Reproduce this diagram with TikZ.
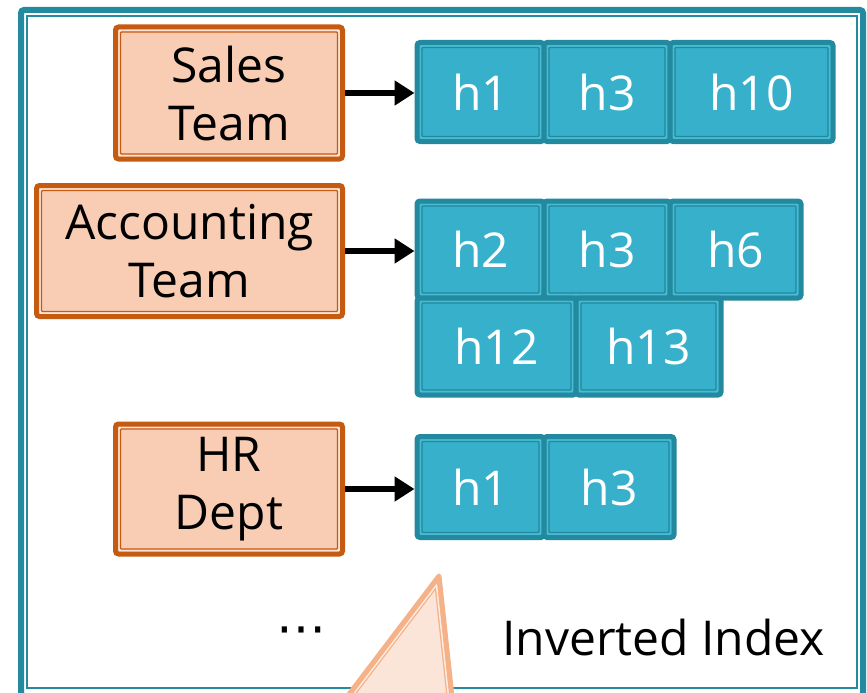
\documentclass[tikz,border=0pt]{standalone}
\usepackage{fontspec}
\setmainfont{Open Sans}
\newfontfamily\symfont{DejaVu Sans}
\usetikzlibrary{arrows.meta}

\definecolor{frameteal}{RGB}{35,138,159}
\definecolor{cellline}{RGB}{35,137,158}
\definecolor{cellgap}{RGB}{72,188,212}
\definecolor{cellfill}{RGB}{54,176,203}
\definecolor{teamline}{RGB}{197,90,17}
\definecolor{teamgap}{RGB}{252,228,214}
\definecolor{teamfill}{RGB}{248,205,180}
\definecolor{triline}{RGB}{245,177,135}
\definecolor{trigap}{RGB}{253,236,226}
\definecolor{trifill}{RGB}{251,229,216}

\tikzset{
  % thick-thin compound border: thick outer stroke, light gap, thin inner line
  compound/.style n args={3}{
    draw=#1, fill=#3, line width=5pt, rounded corners=3pt,
    path picture={
      \draw[#2, line width=1.8pt, rounded corners=1pt]
        ([shift={(3.4pt,-3.4pt)}]path picture bounding box.north west) rectangle
        ([shift={(-3.4pt,3.4pt)}]path picture bounding box.south east);
      \draw[#1, line width=1.3pt, rounded corners=1pt]
        ([shift={(5pt,-5pt)}]path picture bounding box.north west) rectangle
        ([shift={(-5pt,5pt)}]path picture bounding box.south east);
    }},
  bigtext/.style={font=\fontsize{48}{58}\selectfont},
  team/.style={compound={teamline}{teamgap}{teamfill}, inner sep=0pt,
    align=center, bigtext},
  cell/.style={compound={cellline}{cellgap}{cellfill}, inner sep=0pt,
    text=white, bigtext},
  link/.style={line width=6pt, -{Triangle[length=20pt,width=24pt]}},
}

\begin{document}
\begin{tikzpicture}[x=1pt,y=-1pt]
\useasboundingbox (0,0) rectangle (867,693);

\begin{scope}
\clip (0,0) rectangle (867,693);

% outer frame (thick line with thin inner line)
\draw[frameteal, line width=6pt, rounded corners=3pt] (21,10) rectangle (863,696);
\draw[frameteal, line width=1.5pt] (27,16) rectangle (857,688);

% group names
\node[team, minimum width=227pt, minimum height=132pt] (sales) at (229,93) {Sales\\Team};
\node[team, minimum width=306pt, minimum height=131pt] (acct) at (189.5,251) {Accounting\\Team};
\node[team, minimum width=227pt, minimum height=130pt] (hr) at (229,489) {HR\\Dept};

% posting list of Sales Team
\node[cell, minimum width=127pt, minimum height=99pt] (s1) at (480.5,92) {h1};
\node[cell, minimum width=126pt, minimum height=99pt] (s2) at (607,92) {h3};
\node[cell, minimum width=163pt, minimum height=99pt] (s3) at (751.5,92) {h10};

% posting list of Accounting Team
\node[cell, minimum width=127pt, minimum height=97pt] (a1) at (480.5,249.5) {h2};
\node[cell, minimum width=126pt, minimum height=97pt] (a2) at (607,249.5) {h3};
\node[cell, minimum width=131pt, minimum height=97pt] (a3) at (735.5,249.5) {h6};
\node[cell, minimum width=159pt, minimum height=97pt] (a4) at (496.5,346.5) {h12};
\node[cell, minimum width=145pt, minimum height=97pt] (a5) at (648.5,346.5) {h13};

% posting list of HR Dept
\node[cell, minimum width=127pt, minimum height=101pt] (r1) at (480.5,487) {h1};
\node[cell, minimum width=130pt, minimum height=101pt] (r2) at (609,487) {h3};

% links from names to their lists
\draw[link] (sales.east) -- (sales.east -| s1.west);
\draw[link] (acct.east) -- (acct.east -| a1.west);
\draw[link] (hr.east) -- (hr.east -| r1.west);

% caption
\node[bigtext, anchor=base west, inner sep=0pt] (caption) at (502,655) {Inverted Index};
\node[font=\symfont\fontsize{50}{60}\selectfont, inner sep=0pt] (more) at (301,636) {⋯};

% callout pointer
\coordinate (tl) at (329.5,720);
\coordinate (ta) at (439,576);
\coordinate (tr) at (454.5,720);
\fill[trifill] (tl) -- (ta) -- (tr) -- cycle;
\begin{scope}
  \clip (tl) -- (ta) -- (tr) -- cycle;
  \draw[triline, line width=11pt, line join=round] (tl) -- (ta) -- (tr) -- cycle;
  \draw[trigap, line width=8.4pt, line join=round] (tl) -- (ta) -- (tr) -- cycle;
  \draw[triline, line width=5pt, line join=round] (tl) -- (ta) -- (tr) -- cycle;
\end{scope}
\draw[triline, line width=5pt, line join=round] (tl) -- (ta) -- (tr) -- cycle;
\end{scope}
\end{tikzpicture}
\end{document}
